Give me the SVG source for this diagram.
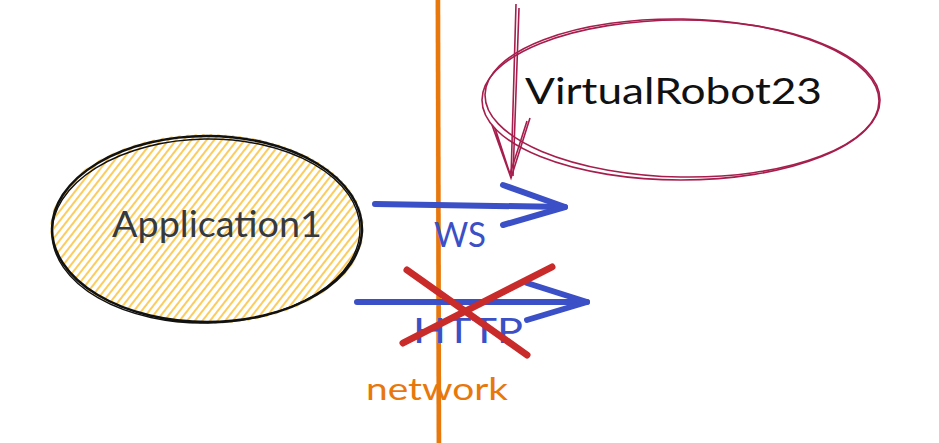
<svg xmlns="http://www.w3.org/2000/svg" width="939" height="443" viewBox="0 0 939 443">
<style>
.lbl{font-family:"Comic Sans MS","Lato","Liberation Sans",sans-serif;}
.blue{stroke:#3b4fc6;stroke-width:6;stroke-linecap:round;stroke-linejoin:round;fill:none}
.red{stroke:#c92a2a;stroke-width:7;stroke-linecap:round;fill:none}
.crim{stroke:#a61e4d;stroke-width:1.6;fill:none}
</style>
<defs>
<pattern id="hach" width="6" height="6" patternUnits="userSpaceOnUse" patternTransform="rotate(-52)">
<line x1="0" y1="3" x2="6" y2="3" stroke="#fab005" stroke-width="1.3"/>
</pattern>
</defs>
<rect width="939" height="443" fill="#ffffff"/>
<g id="network">
<line x1="438" y1="0" x2="439" y2="443" stroke="#e8780c" stroke-width="4.5"/>
<line x1="436" y1="0" x2="437" y2="443" stroke="#e8780c" stroke-width="1" opacity="0.5"/>
<text class="lbl" x="366" y="400" font-size="31" fill="#e8780c" textLength="142" lengthAdjust="spacingAndGlyphs">network</text>
</g>
<g id="app1">
<ellipse cx="207" cy="229" rx="157" ry="95" fill="url(#hach)"/>
<ellipse cx="207" cy="229" rx="155" ry="93" fill="none" stroke="#111" stroke-width="2.5"/>
<ellipse cx="206" cy="231" rx="154" ry="92" fill="none" stroke="#111" stroke-width="1.4" transform="rotate(-1 206 231)"/>
<text class="lbl" x="112" y="237" font-size="37" fill="#343a40" textLength="210" lengthAdjust="spacingAndGlyphs">Application1</text>
</g>
<g id="robot">
<ellipse cx="681" cy="100" rx="199" ry="80" class="crim"/>
<ellipse cx="682" cy="98" rx="197" ry="79" class="crim" transform="rotate(1 682 98)"/>
<text class="lbl" x="525" y="104" font-size="36" fill="#111" textLength="297" lengthAdjust="spacingAndGlyphs">VirtualRobot23</text>
</g>
<g id="connectors">
<g id="robot-arrow">
<path class="crim" d="M516 4 L511 178 M519 8 L513 176"/>
<path class="crim" d="M492 125 L511 178 L530 118 M495 128 L510 174 L527 121"/>
</g>
<g id="ws-arrow">
<path class="blue" d="M375 204 L565 207"/>
<path class="blue" d="M503 185 L565 207 L503 225"/>
<text class="lbl" x="434" y="247" font-size="34" fill="#3b4fc6" textLength="52" lengthAdjust="spacingAndGlyphs">WS</text>
</g>
<g id="http-arrow">
<path class="blue" d="M357 302 L587 302"/>
<path class="blue" d="M527 283 L587 302 L527 320"/>
<text class="lbl" x="413" y="343" font-size="35" fill="#3b4fc6" textLength="110" lengthAdjust="spacingAndGlyphs">HTTP</text>
</g>
<g id="cross">
<line class="red" x1="407" y1="270" x2="527" y2="355"/>
<line class="red" x1="403" y1="343" x2="552" y2="267"/>
</g>
</g>
</svg>
